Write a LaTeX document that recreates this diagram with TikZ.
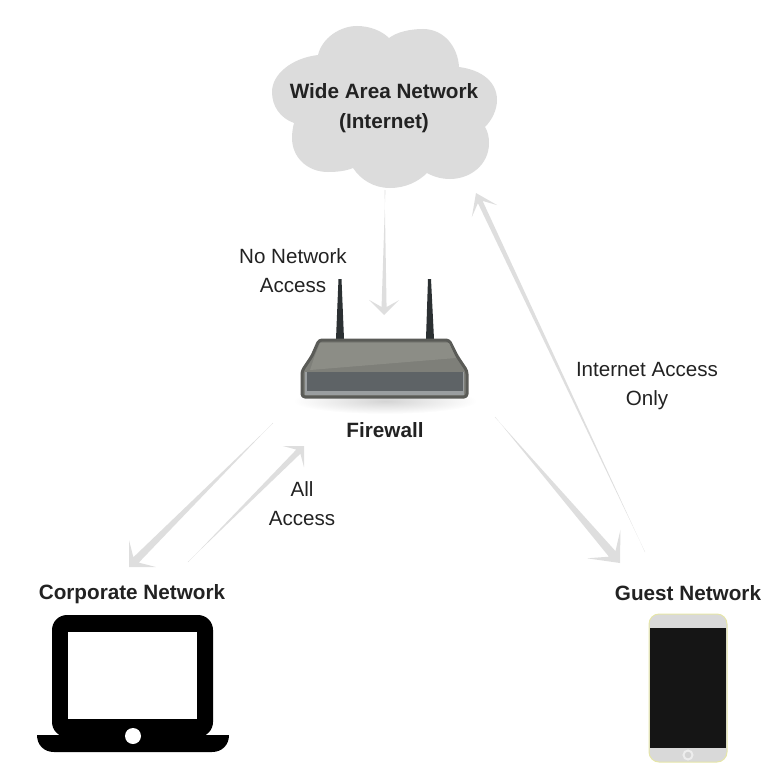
\documentclass[tikz,border=0pt]{standalone}
\usepackage{fontspec}
\setmainfont{Liberation Sans}
\usetikzlibrary{calc,shadings}
\definecolor{arrowgray}{HTML}{DEDEDE}
\definecolor{cloudgray}{HTML}{DCDCDC}
\definecolor{inkdark}{HTML}{222222}
\definecolor{antenna}{HTML}{2B3032}
\definecolor{rframe}{HTML}{5A5B57}
\definecolor{rtopa}{HTML}{8C8D86}
\definecolor{rtopb}{HTML}{7E7F79}
\definecolor{rband}{HTML}{9A9EA0}
\definecolor{rfront}{HTML}{5E6366}
\definecolor{phoneedge}{HTML}{E6E6A8}
\definecolor{phonebody}{HTML}{D9D9D9}
\definecolor{phonescreen}{HTML}{151515}
\tikzset{
  boldlabel/.style={font=\fontsize{20.7}{30}\selectfont\bfseries,text=inkdark,align=center,inner sep=0pt},
  plainlabel/.style={font=\fontsize{20.6}{29}\selectfont,text=inkdark,align=center,inner sep=0pt},
}
% from, to, start half width, end half width, head length, head half width, notch depth
\newcommand{\taperarrow}[7]{%
  \fill[arrowgray]
    ($(#1)!#3pt!90:(#2)$) -- ($(#2)!#7pt!(#1)!#4pt!-90:(#2)$)
    -- ($(#2)!#5pt!(#1)!#6pt!-90:(#2)$) -- (#2)
    -- ($(#2)!#5pt!(#1)!#6pt!90:(#2)$)
    -- ($(#2)!#7pt!(#1)!#4pt!90:(#2)$)
    -- ($(#1)!#3pt!-90:(#2)$) -- cycle;}
\begin{document}
\begin{tikzpicture}[x=1pt,y=-1pt]
\useasboundingbox (0,0) rectangle (768,768);
% cloud
\fill[cloudgray] (318,55) .. controls (322,38) and (340,26) .. (357,26)
  .. controls (370,26) and (382,31) .. (389,38)
  .. controls (397,32) and (410,29) .. (423,29)
  .. controls (444,29) and (458,47) .. (459,67)
  .. controls (482,70) and (497,82) .. (497,100)
  .. controls (497,110) and (492,120) .. (485,127)
  .. controls (488,132) and (489,137) .. (489,143)
  .. controls (489,165) and (470,179) .. (450,179)
  .. controls (442,179) and (434,177) .. (427,173)
  .. controls (418,182) and (405,188) .. (390,188)
  .. controls (374,188) and (361,180) .. (353,168)
  .. controls (346,171) and (337,172) .. (328,172)
  .. controls (307,172) and (292,157) .. (292,138)
  .. controls (292,132) and (293,127) .. (294,123)
  .. controls (280,118) and (272,106) .. (272,92)
  .. controls (272,74) and (292,58) .. (318,55) -- cycle;
\node[boldlabel] (wan) at (384,108.5) {Wide Area Network\\(Internet)};
% router
\shade[inner color=black!17,outer color=white,draw=none] (385,401) ellipse (92 and 13);
\fill[antenna] (336,339) -- (338.5,279) -- (341.5,279) -- (344,339) -- cycle;
\fill[antenna] (426,339) -- (428,279) -- (431,279) -- (434,339) -- cycle;
\path[draw=rframe,line width=3pt,line join=round,fill=rtopb,rounded corners=3pt]
  (319,340) -- (449,340) -- (457,356) -- (467,371) -- (467,397) -- (302,397) -- (302,371) -- (312,356) -- cycle;
\fill[rtopa] (320,343) -- (449,343) -- (456,358) -- (310,370) -- (314,358) -- cycle;
\fill[rband] (305,372) rectangle (464,395);
\fill[rfront] (307,372) rectangle (463,391);
\node[boldlabel] (fw) at (385,430) {Firewall};
% laptop
\fill[black,rounded corners=15pt] (52,615) rectangle (213,737);
\fill[black] (37,735) -- (229,735) .. controls (229,745) and (222,752) .. (212,752) -- (54,752) .. controls (44,752) and (37,745) .. (37,735) -- cycle;
\fill[white] (68,632) rectangle (197,719);
\fill[white] (133,736) circle (8);
\node[boldlabel] (corp) at (132,594) {Corporate Network};
% phone
\filldraw[fill=phonebody,draw=phoneedge,line width=1pt,rounded corners=10pt] (649,614) rectangle (727,762);
\fill[phonescreen] (650,628) rectangle (726,748);
\draw[black!7,line width=2pt,fill=black!17] (688,755) circle (4.5);
\node[boldlabel] (guest) at (688,593.5) {Guest Network};
% labels
\node[plainlabel] (nna) at (293,270.5) {No Network\\Access};
\node[plainlabel] (allacc) at (302,503.5) {All\\Access};
\node[plainlabel] (iao) at (647,386) {Internet Access\\Only};
% connectors
\coordinate (a1) at (385,190); \coordinate (b1) at (384,315);
\coordinate (a2) at (273,423); \coordinate (b2) at (129,567);
\coordinate (a3) at (188,562); \coordinate (b3) at (304,446);
\coordinate (a4) at (645,552); \coordinate (b4) at (476,193);
\coordinate (a5) at (495,417); \coordinate (b5) at (620,563);
\taperarrow{a1}{b1}{.4}{2.5}{15}{15}{8}
\taperarrow{a2}{b2}{.2}{3.8}{19}{19}{10}
\taperarrow{a3}{b3}{.2}{2.9}{15}{15}{8}
\taperarrow{a4}{b4}{.1}{2.6}{20}{14}{10}
\taperarrow{a5}{b5}{.2}{4.3}{25}{22}{12}
\end{tikzpicture}
\end{document}
